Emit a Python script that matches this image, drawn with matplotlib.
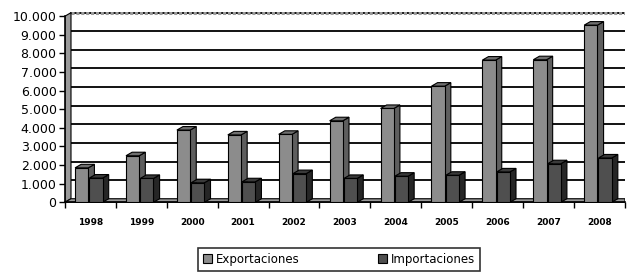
import numpy as np
import matplotlib.pyplot as plt
from matplotlib.ticker import FuncFormatter

# data
years = ['1998', '1999', '2000', '2001', '2002', '2003', '2004', '2005', '2006', '2007', '2008']
exportaciones = [1850, 2500, 3880, 3620, 3650, 4380, 5040, 6240, 7640, 7660, 9520]
importaciones = [1300, 1280, 1050, 1100, 1540, 1280, 1400, 1450, 1630, 2070, 2380]

# 3d-ish look
DX = 0.12      # depth in category units
DY = 190       # depth in value units
W = 0.26


def shade_bars(ax, bars, side_col, top_col):
    for b in bars:
        x0, w, h = b.get_x(), b.get_width(), b.get_height()
        x1 = x0 + w
        ax.fill([x1, x1 + DX, x1 + DX, x1], [0, DY, h + DY, h],
                facecolor=side_col, edgecolor='black', lw=0.8, zorder=3)
        ax.fill([x0, x0 + DX, x1 + DX, x1], [h, h + DY, h + DY, h],
                facecolor=top_col, edgecolor='black', lw=0.8, zorder=3)


fig, ax = plt.subplots(figsize=(6.3, 2.73), dpi=100)
fig.subplots_adjust(left=0.103, right=0.992, top=0.955, bottom=0.255)

# spines first (set_position resets the ticks)
for s in ['top', 'right']:
    ax.spines[s].set_visible(False)
ax.spines['left'].set_linewidth(1.2)
ax.spines['bottom'].set_linewidth(1.2)
ax.spines['bottom'].set_position(('data', 0))
ax.spines['left'].set_bounds(0, 10000)

x = np.arange(len(years))

# back wall grid lines
for v in range(1000, 10001, 1000):
    ax.plot([-0.5 + DX, 10.5], [v + DY, v + DY], color='black', lw=1.3, zorder=1)
ax.plot([-0.5 + DX, 10.5], [10000 + DY, 10000 + DY], color='#9a9a9a', lw=2.2,
        ls=(0, (1, 0.6)), zorder=1)

# left wall and floor
ax.fill([-0.5, -0.5 + DX, -0.5 + DX, -0.5], [0, DY, 10000 + DY, 10000],
        facecolor='#9a9a9a', edgecolor='black', lw=0.8, zorder=2)
ax.fill([-0.5, -0.5 + DX, 10.5, 10.5], [0, DY, DY, 0],
        facecolor='#9a9a9a', edgecolor='black', lw=0.8, zorder=2)

b1 = ax.bar(x - 0.17, exportaciones, W, color='#8c8c8c', edgecolor='black',
            lw=0.8, zorder=4, label='Exportaciones')
b2 = ax.bar(x + 0.11, importaciones, W, color='#4f4f4f', edgecolor='black',
            lw=0.8, zorder=4, label='Importaciones')
shade_bars(ax, b1, '#5e5e5e', '#6f6f6f')
shade_bars(ax, b2, '#262626', '#3a3a3a')

ax.set_xlim(-0.5, 10.5)
ax.set_ylim(-60, 10000 + DY + 20)

ax.set_yticks(range(0, 10001, 1000))
ax.yaxis.set_major_formatter(FuncFormatter(lambda v, p: f'{int(v):,}'.replace(',', '.')))
ax.tick_params(axis='y', labelsize=9, length=4, width=1, colors='black', pad=2)

ax.set_xticks(x)
ax.set_xticklabels(years, fontsize=6.5, fontweight='bold')
ax.set_xticks(np.arange(-0.5, 11, 1), minor=True)
ax.tick_params(axis='x', which='major', length=0, pad=11)
ax.tick_params(axis='x', which='minor', length=4, width=1, direction='out')

leg = fig.legend(handles=[b1, b2], loc='lower center', bbox_to_anchor=(0.538, -0.015),
                 ncol=2, fontsize=8.5, frameon=True, fancybox=False,
                 edgecolor='black', handlelength=0.8, handleheight=0.8,
                 handletextpad=0.3, columnspacing=6.6, borderpad=0.45)
leg.get_frame().set_linewidth(1.2)

plt.savefig('out.png', dpi=100)
